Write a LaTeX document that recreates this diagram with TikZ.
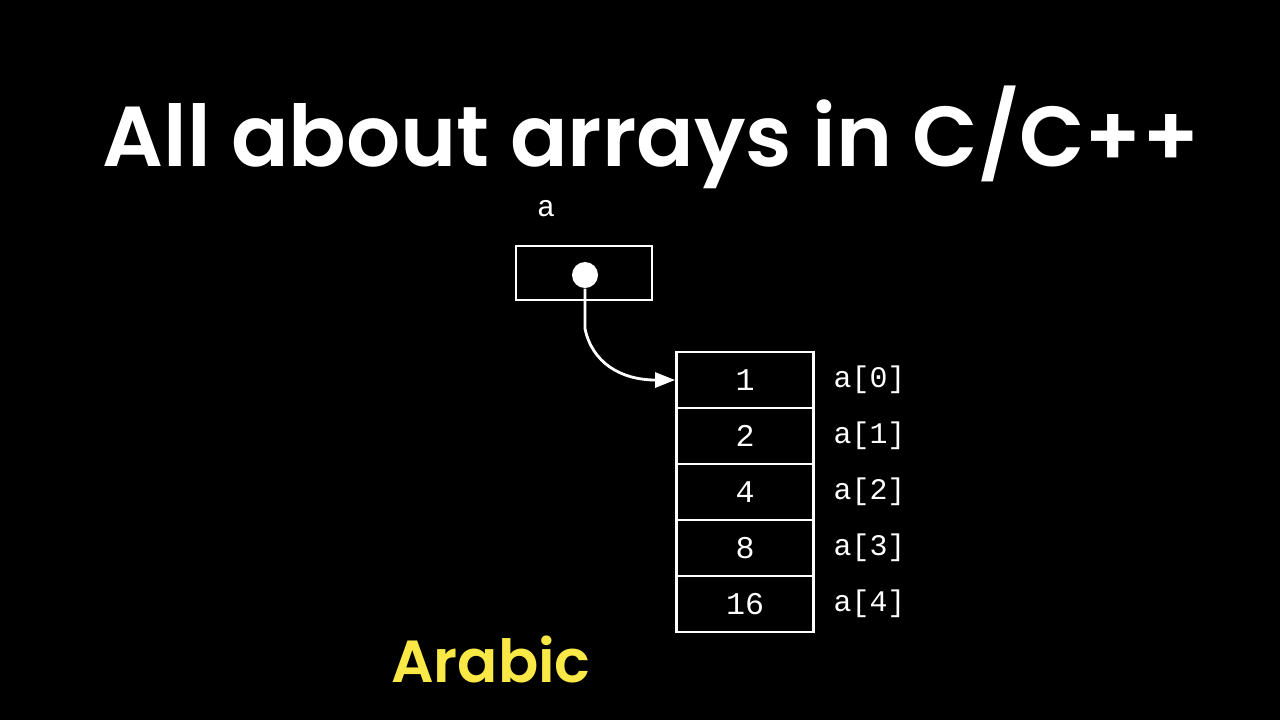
\documentclass[tikz,border=0pt]{standalone}
\usepackage{fontspec}
\setmainfont{Poppins}
\setmonofont{Liberation Mono}
\newfontfamily\titlefont{Poppins SemiBold}
\usetikzlibrary{arrows.meta,positioning}
\definecolor{labelyellow}{RGB}{250,232,70}

\begin{document}
\begin{tikzpicture}[x=0.01cm, y=-0.01cm,
    cell/.style={draw=white, line width=0.8pt, minimum width=1.37cm, minimum height=0.56cm, inner sep=0pt, text=white, font=\ttfamily\fontsize{9}{9}\selectfont},
    idx/.style={inner sep=0pt, text=white, font=\ttfamily\fontsize{8.5}{9}\selectfont},
    ptrbox/.style={draw=white, line width=0.8pt, minimum width=1.36cm, minimum height=0.54cm, inner sep=0pt},
    dot/.style={circle, fill=white, minimum size=0.26cm, inner sep=0pt}]
    \fill[black] (0,0) rectangle (1280,720);
    \node[text=white, anchor=base, font=\titlefont\fontsize{24.2}{28}\selectfont] (title) at (651,166) {All about arrays in C/C++};
    % pointer variable
    \node[idx] (aname) at (546,209) {a};
    \node[ptrbox] (ptr) at (584,273) {};
    \node[dot] (d) at (585,275) {};
    % the array cells and their indices
    \foreach \v [count=\i from 0] in {1,2,4,8,16} {
      \node[cell] (c\i) at (745,380+56*\i) {\v};
      \node[idx, right=0.18cm of c\i] (l\i) {a[\i]};
    }
    \draw[white, line width=0.8pt, -{Triangle[length=0.2cm, width=0.15cm]}] (d.south) -- ++(0,40) .. controls (592,362) and (620,380) .. (c0.west);
    \node[text=labelyellow, anchor=base, font=\titlefont\fontsize{16.9}{20}\selectfont] (lang) at (491,682) {Arabic};
\end{tikzpicture}
\end{document}
